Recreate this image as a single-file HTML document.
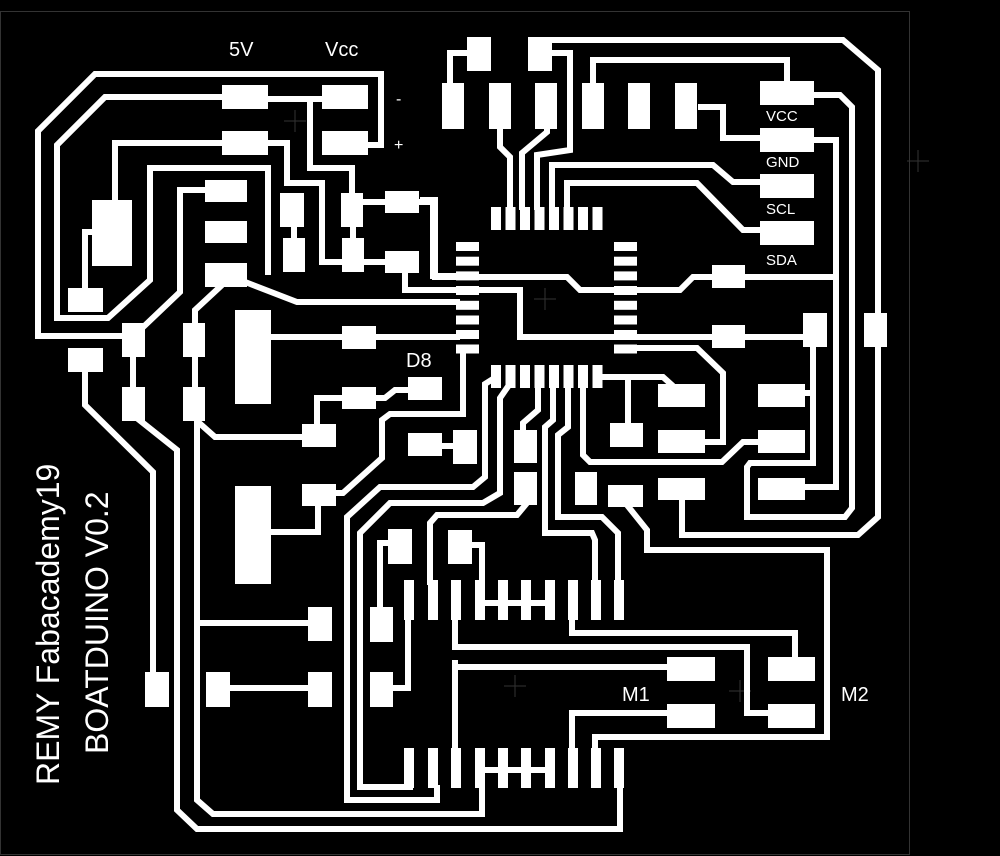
<!DOCTYPE html>
<html><head><meta charset="utf-8"><style>
html,body{margin:0;padding:0;background:#000;}
svg{display:block;}
text{font-family:"Liberation Sans",sans-serif;fill:#fff;}
</style></head><body>
<svg width="1000" height="856" viewBox="0 0 1000 856" xmlns="http://www.w3.org/2000/svg">
<rect width="1000" height="856" fill="#000"/>
<rect x="0.5" y="11.5" width="909" height="843" fill="none" stroke="#333" stroke-width="1"/>
<g stroke="#333" stroke-width="1">
<path d="M918 150v22M907 161h22M295 110v22M284 121h22M545 288v22M534 299h22M515 675v22M504 686h22M740 680v22M729 691h22"/>
</g>
<g fill="none" stroke="#fff" stroke-width="6" stroke-linejoin="miter">
<polyline points="368,145 381,145 381,74 95,74 38,131 38,336 135,336"/>
<polyline points="222,97 105,97 57,145 57,318 108,318 150,280 150,168 268,168 268,275"/>
<polyline points="240,280 297,302 460,302"/>
<polyline points="222,143 115,143 115,205"/>
<polyline points="265,143 287,143 287,183 322,183 322,262 345,262"/>
<polyline points="268,99 340,99"/>
<polyline points="310,99 310,168 352,168 352,200"/>
<polyline points="100,232 85,232 85,292"/>
<polyline points="205,190 180,190 180,292 138,332"/>
<polyline points="222,285 195,310 195,330"/>
<polyline points="294,225 294,242"/>
<polyline points="353,225 353,242"/>
<polyline points="360,202 390,202"/>
<polyline points="415,202 433,202 433,276 460,276"/>
<polyline points="352,262 390,262"/>
<polyline points="405,270 405,290 460,290"/>
<polyline points="271,337 345,337"/>
<polyline points="372,337 460,337"/>
<polyline points="133,340 133,405"/>
<polyline points="195,340 195,405"/>
<polyline points="342,398 317,398 317,430"/>
<polyline points="372,398 385,398 395,390 410,390"/>
<polyline points="85,372 85,405 153,472 153,675"/>
<polyline points="133,415 177,450 177,810 197,829 620,829 620,785"/>
<polyline points="197,410 197,800 213,814 482,814 482,785"/>
<polyline points="197,421 215,437 305,437"/>
<polyline points="199,623 310,623"/>
<polyline points="228,688 310,688"/>
<polyline points="271,532 318,532 318,503"/>
<polyline points="335,493 343,493 382,458 382,420 390,414 463,414 463,350"/>
<polyline points="430,446 455,446"/>
<polyline points="496,377 485,384 485,477 473,487 380,487 347,517 347,800 437,800 437,785"/>
<polyline points="509,385 500,398 500,493 483,503 390,503 360,533 360,787 410,787 410,750"/>
<polyline points="538,385 538,410 523,423 523,432"/>
<polyline points="527,503 517,515 437,515 430,523 430,585"/>
<polyline points="553,385 553,420 545,427 545,533 592,533 595,540 595,585"/>
<polyline points="568,385 568,427 558,435 558,517 602,517 618,533 618,585"/>
<polyline points="583,385 583,455 590,462 722,462 743,442 760,442"/>
<polyline points="600,377 663,377 673,386"/>
<polyline points="628,380 628,430"/>
<polyline points="627,505 647,530 647,550 827,550 827,737 595,737 595,755"/>
<polyline points="682,495 682,535 858,535 878,517 878,70 843,40 552,40"/>
<polyline points="813,340 813,463 750,463 747,467 747,517 845,517 852,508 852,107 840,95 810,95"/>
<polyline points="805,393 813,393"/>
<polyline points="805,487 836,487 836,140 810,140"/>
<polyline points="745,277 836,277"/>
<polyline points="745,337 810,337"/>
<polyline points="614,348 697,348 723,373 723,442 700,442"/>
<polyline points="420,200 435,200 435,277 567,277 580,290 680,290 693,277 715,277"/>
<polyline points="470,290 520,290 520,337 715,337"/>
<polyline points="470,53 450,53 450,90"/>
<polyline points="545,53 570,53 570,150 537,155 537,210"/>
<polyline points="500,125 500,147 510,157 510,210"/>
<polyline points="547,125 547,132 522,153 522,210"/>
<polyline points="552,210 552,165 713,165 733,182 765,182"/>
<polyline points="567,210 567,183 697,183 743,230 765,230"/>
<polyline points="593,90 593,60 787,60 787,85"/>
<polyline points="698,107 723,107 723,138 765,138"/>
<polyline points="380,612 380,543 392,543"/>
<polyline points="408,615 408,688 390,688"/>
<polyline points="472,545 482,545 482,590"/>
<polyline points="455,615 455,647 747,647 747,713 772,713"/>
<polyline points="455,667 673,667"/>
<polyline points="455,660 455,752"/>
<polyline points="572,615 572,633 795,633 795,660"/>
<polyline points="670,713 572,713 572,752"/>
<polyline points="478,603 550,603"/>
<polyline points="478,770 550,770"/>
</g>
<g fill="#fff">
<rect x="222" y="85" width="46" height="24"/><rect x="222" y="131" width="46" height="24"/>
<rect x="322" y="85" width="46" height="24"/><rect x="322" y="131" width="46" height="24"/>
<rect x="92" y="200" width="40" height="66"/><rect x="68" y="288" width="35" height="24"/>
<rect x="205" y="180" width="42" height="22"/><rect x="205" y="221" width="42" height="22"/><rect x="205" y="263" width="42" height="24"/>
<rect x="280" y="193" width="24" height="34"/><rect x="283" y="238" width="22" height="34"/>
<rect x="341" y="193" width="22" height="34"/><rect x="342" y="238" width="22" height="34"/>
<rect x="385" y="191" width="34" height="22"/><rect x="385" y="251" width="34" height="22"/>
<rect x="122" y="323" width="23" height="34"/><rect x="183" y="323" width="22" height="34"/>
<rect x="122" y="387" width="23" height="34"/><rect x="183" y="387" width="22" height="34"/>
<rect x="68" y="348" width="35" height="24"/>
<rect x="235" y="310" width="36" height="94"/>
<rect x="342" y="326" width="34" height="23"/>
<rect x="408" y="377" width="34" height="23"/><rect x="342" y="387" width="34" height="22"/>
<rect x="302" y="424" width="34" height="23"/><rect x="408" y="433" width="34" height="23"/><rect x="453" y="430" width="24" height="34"/>
<rect x="302" y="484" width="34" height="22"/>
<rect x="235" y="486" width="36" height="98"/>
<rect x="308" y="607" width="24" height="34"/><rect x="370" y="607" width="23" height="35"/>
<rect x="308" y="672" width="24" height="35"/><rect x="370" y="672" width="23" height="35"/>
<rect x="145" y="672" width="24" height="35"/><rect x="206" y="672" width="24" height="35"/>
<rect x="388" y="529" width="24" height="35"/><rect x="448" y="530" width="24" height="34"/>
<rect x="467" y="37" width="24" height="34"/><rect x="528" y="37" width="24" height="34"/>
<rect x="442" y="83" width="22" height="46"/><rect x="489" y="83" width="22" height="46"/><rect x="535" y="83" width="22" height="46"/>
<rect x="582" y="83" width="22" height="46"/><rect x="628" y="83" width="22" height="46"/><rect x="675" y="83" width="22" height="46"/>
<rect x="760" y="81" width="54" height="24"/><rect x="760" y="128" width="54" height="24"/>
<rect x="760" y="174" width="54" height="24"/><rect x="760" y="221" width="54" height="24"/>
<rect x="491" y="207" width="10" height="23"/><rect x="505.5" y="207" width="10" height="23"/><rect x="520" y="207" width="10" height="23"/><rect x="534.5" y="207" width="10" height="23"/>
<rect x="549" y="207" width="10" height="23"/><rect x="563.5" y="207" width="10" height="23"/><rect x="578" y="207" width="10" height="23"/><rect x="592.5" y="207" width="10" height="23"/>
<rect x="491" y="365" width="10" height="23"/><rect x="505.5" y="365" width="10" height="23"/><rect x="520" y="365" width="10" height="23"/><rect x="534.5" y="365" width="10" height="23"/>
<rect x="549" y="365" width="10" height="23"/><rect x="563.5" y="365" width="10" height="23"/><rect x="578" y="365" width="10" height="23"/><rect x="592.5" y="365" width="10" height="23"/>
<rect x="456" y="242" width="23" height="9"/><rect x="456" y="256.7" width="23" height="9"/><rect x="456" y="271.4" width="23" height="9"/><rect x="456" y="286" width="23" height="9"/>
<rect x="456" y="300.8" width="23" height="9"/><rect x="456" y="315.5" width="23" height="9"/><rect x="456" y="330" width="23" height="9"/><rect x="456" y="344.5" width="23" height="9"/>
<rect x="614" y="242" width="23" height="9"/><rect x="614" y="256.7" width="23" height="9"/><rect x="614" y="271.4" width="23" height="9"/><rect x="614" y="286" width="23" height="9"/>
<rect x="614" y="300.8" width="23" height="9"/><rect x="614" y="315.5" width="23" height="9"/><rect x="614" y="330" width="23" height="9"/><rect x="614" y="344.5" width="23" height="9"/>
<rect x="712" y="265" width="33" height="23"/><rect x="712" y="325" width="33" height="23"/>
<rect x="803" y="313" width="24" height="34"/><rect x="864" y="313" width="23" height="34"/>
<rect x="658" y="384" width="47" height="23"/><rect x="758" y="384" width="47" height="23"/>
<rect x="658" y="430" width="47" height="23"/><rect x="758" y="430" width="47" height="23"/>
<rect x="658" y="478" width="47" height="22"/><rect x="758" y="478" width="47" height="22"/>
<rect x="610" y="423" width="33" height="24"/><rect x="608" y="485" width="35" height="22"/>
<rect x="514" y="430" width="23" height="33"/><rect x="514" y="472" width="23" height="33"/><rect x="575" y="472" width="22" height="33"/>
<rect x="404" y="580" width="10" height="40"/><rect x="428" y="580" width="10" height="40"/><rect x="451" y="580" width="10" height="40"/><rect x="475" y="580" width="10" height="40"/><rect x="498" y="580" width="10" height="40"/>
<rect x="521" y="580" width="10" height="40"/><rect x="545" y="580" width="10" height="40"/><rect x="568" y="580" width="10" height="40"/><rect x="591" y="580" width="10" height="40"/><rect x="614" y="580" width="10" height="40"/>
<rect x="404" y="748" width="10" height="40"/><rect x="428" y="748" width="10" height="40"/><rect x="451" y="748" width="10" height="40"/><rect x="475" y="748" width="10" height="40"/><rect x="498" y="748" width="10" height="40"/>
<rect x="521" y="748" width="10" height="40"/><rect x="545" y="748" width="10" height="40"/><rect x="568" y="748" width="10" height="40"/><rect x="591" y="748" width="10" height="40"/><rect x="614" y="748" width="10" height="40"/>
<rect x="667" y="657" width="48" height="24"/><rect x="667" y="704" width="48" height="24"/>
<rect x="768" y="657" width="47" height="24"/><rect x="768" y="704" width="47" height="24"/>
</g>
<text x="229" y="56" font-size="20">5V</text>
<text x="325" y="56" font-size="20">Vcc</text>
<text x="396" y="104" font-size="16">-</text>
<text x="394" y="150" font-size="16">+</text>
<text x="766" y="121" font-size="15">VCC</text>
<text x="766" y="167" font-size="15">GND</text>
<text x="766" y="214" font-size="15">SCL</text>
<text x="766" y="265" font-size="15">SDA</text>
<text x="406" y="367" font-size="20">D8</text>
<text x="622" y="701" font-size="20">M1</text>
<text x="841" y="701" font-size="20">M2</text>
<text transform="translate(59,785) rotate(-90)" font-size="32">REMY Fabacademy19</text>
<text transform="translate(108,754) rotate(-90)" font-size="32">BOATDUINO V0.2</text>
</svg>
</body></html>
